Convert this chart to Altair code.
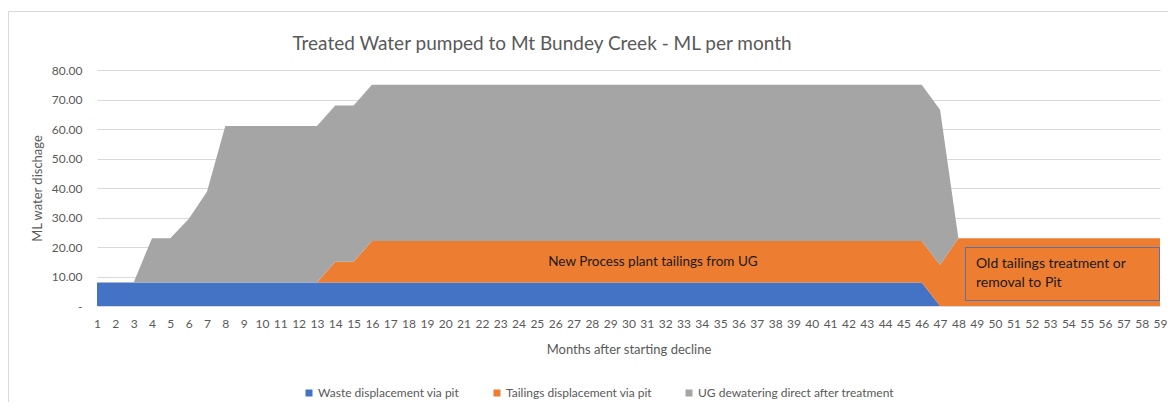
import altair as alt
import pandas as pd

MONTHS = list(range(1, 60))

SERIES = ["Waste displacement via pit", "Tailings displacement via pit", "UG dewatering direct after treatment"]
COLORS = ["#4472C4", "#ED7D31", "#A5A5A5"]

WASTE = [8, 8, 8, 8, 8, 8, 8, 8, 8, 8, 8, 8, 8, 8, 8, 8, 8, 8, 8, 8,
         8, 8, 8, 8, 8, 8, 8, 8, 8, 8, 8, 8, 8, 8, 8, 8, 8, 8, 8, 8,
         8, 8, 8, 8, 8, 8, 0, 0, 0, 0, 0, 0, 0, 0, 0, 0, 0, 0, 0]
TAILINGS = [0, 0, 0, 0, 0, 0, 0, 0, 0, 0, 0, 0, 0, 7, 7, 14, 14, 14, 14, 14,
            14, 14, 14, 14, 14, 14, 14, 14, 14, 14, 14, 14, 14, 14, 14, 14, 14, 14, 14, 14,
            14, 14, 14, 14, 14, 14, 14, 23, 23, 23, 23, 23, 23, 23, 23, 23, 23, 23, 23]
UG = [0, 0, 0, 15, 15, 21.5, 30.7, 53, 53, 53, 53, 53, 53, 53, 53, 53, 53, 53, 53, 53,
      53, 53, 53, 53, 53, 53, 53, 53, 53, 53, 53, 53, 53, 53, 53, 53, 53, 53, 53, 53,
      53, 53, 53, 53, 53, 53, 52.5, 0, 0, 0, 0, 0, 0, 0, 0, 0, 0, 0, 0]

Y_TICKS = [0, 10, 20, 30, 40, 50, 60, 70, 80]

TITLE = "Treated Water pumped to Mt Bundey Creek - ML per month"
NOTE1 = "New Process plant tailings from UG"
NOTE2 = ["Old tailings treatment or", "removal to Pit"]

rows = []
for k, (name, vals) in enumerate(zip(SERIES, [WASTE, TAILINGS, UG])):
    for m, v in zip(MONTHS, vals):
        rows.append({"month": m, "value": v, "series": name, "k": k})
df = pd.DataFrame(rows)

FONT = "Lato"
GREY = "#595959"

area = alt.Chart(df).mark_area(interpolate="linear").encode(
    x=alt.X("month:Q",
            scale=alt.Scale(domain=[1, 59], nice=False, zero=False),
            axis=alt.Axis(values=MONTHS, title="Months after starting decline", grid=False,
                          domain=False, ticks=False, labelPadding=12, labelFontSize=12,
                          labelColor=GREY, labelFlush=False, labelOverlap=False,
                          titleFontSize=13, titleColor=GREY, titleFontWeight="normal",
                          titleY=43, titleBaseline="middle")),
    y=alt.Y("value:Q", stack="zero",
            scale=alt.Scale(domain=[0, 80], nice=False),
            axis=alt.Axis(values=Y_TICKS, title="ML water dischage", grid=True,
                          gridColor="#d9d9d9", gridWidth=1, domain=False, ticks=False,
                          labelExpr="datum.value == 0 ? '-' : format(datum.value, '.2f')",
                          labelPadding=15, labelFontSize=12, labelColor=GREY,
                          titleFontSize=13, titleColor=GREY, titleFontWeight="normal",
                          titleX=-60, titleY=118, titleAngle=-90, titleAlign="center",
                          titleBaseline="middle")),
    color=alt.Color("series:N", scale=alt.Scale(domain=SERIES, range=COLORS),
                    legend=alt.Legend(title=None, orient="none", direction="horizontal",
                                      columns=3, legendX=206, legendY=317,
                                      symbolType="square", symbolSize=49, symbolStrokeWidth=0,
                                      labelFontSize=12, labelColor=GREY, labelOffset=3,
                                      columnPadding=31, labelLimit=400)),
    order=alt.Order("k:Q", sort="ascending"),
)

one = pd.DataFrame({"a": [0]})

title = alt.Chart(one).mark_text(fontSize=19, color=GREY, align="center", baseline="middle").encode(
    x=alt.value(445), y=alt.value(-26), text=alt.value(TITLE))

note1 = alt.Chart(one).mark_text(fontSize=13.5, color="#1a1a1a", align="center", baseline="middle").encode(
    x=alt.value(556), y=alt.value(192), text=alt.value(NOTE1))

box = alt.Chart(one).mark_rect(fill=None, stroke="#5B6FA8", strokeWidth=1).encode(
    x=alt.value(868.5), x2=alt.value(1062.5), y=alt.value(177.5), y2=alt.value(230.5))

note2 = alt.Chart(one).mark_text(fontSize=14, color="#1a1a1a", align="left", baseline="middle",
                                 lineHeight=19).encode(
    x=alt.value(879), y=alt.value(193.5), text=alt.value(NOTE2))

border = alt.Chart(one).mark_rect(fill=None, stroke="#d9d9d9", strokeWidth=1).encode(
    x=alt.value(-88.5), x2=alt.value(1100), y=alt.value(-58.5), y2=alt.value(400))

chart = alt.layer(border, area, title, note1, box, note2).properties(
    width=1063, height=236,
    autosize=alt.AutoSizeParams(type="none"),
    padding={"left": 89, "top": 62, "right": 8, "bottom": 96},
).configure(font=FONT).configure_view(stroke=None)

chart.save("out.html", embed_options={"renderer": "svg", "actions": False})
